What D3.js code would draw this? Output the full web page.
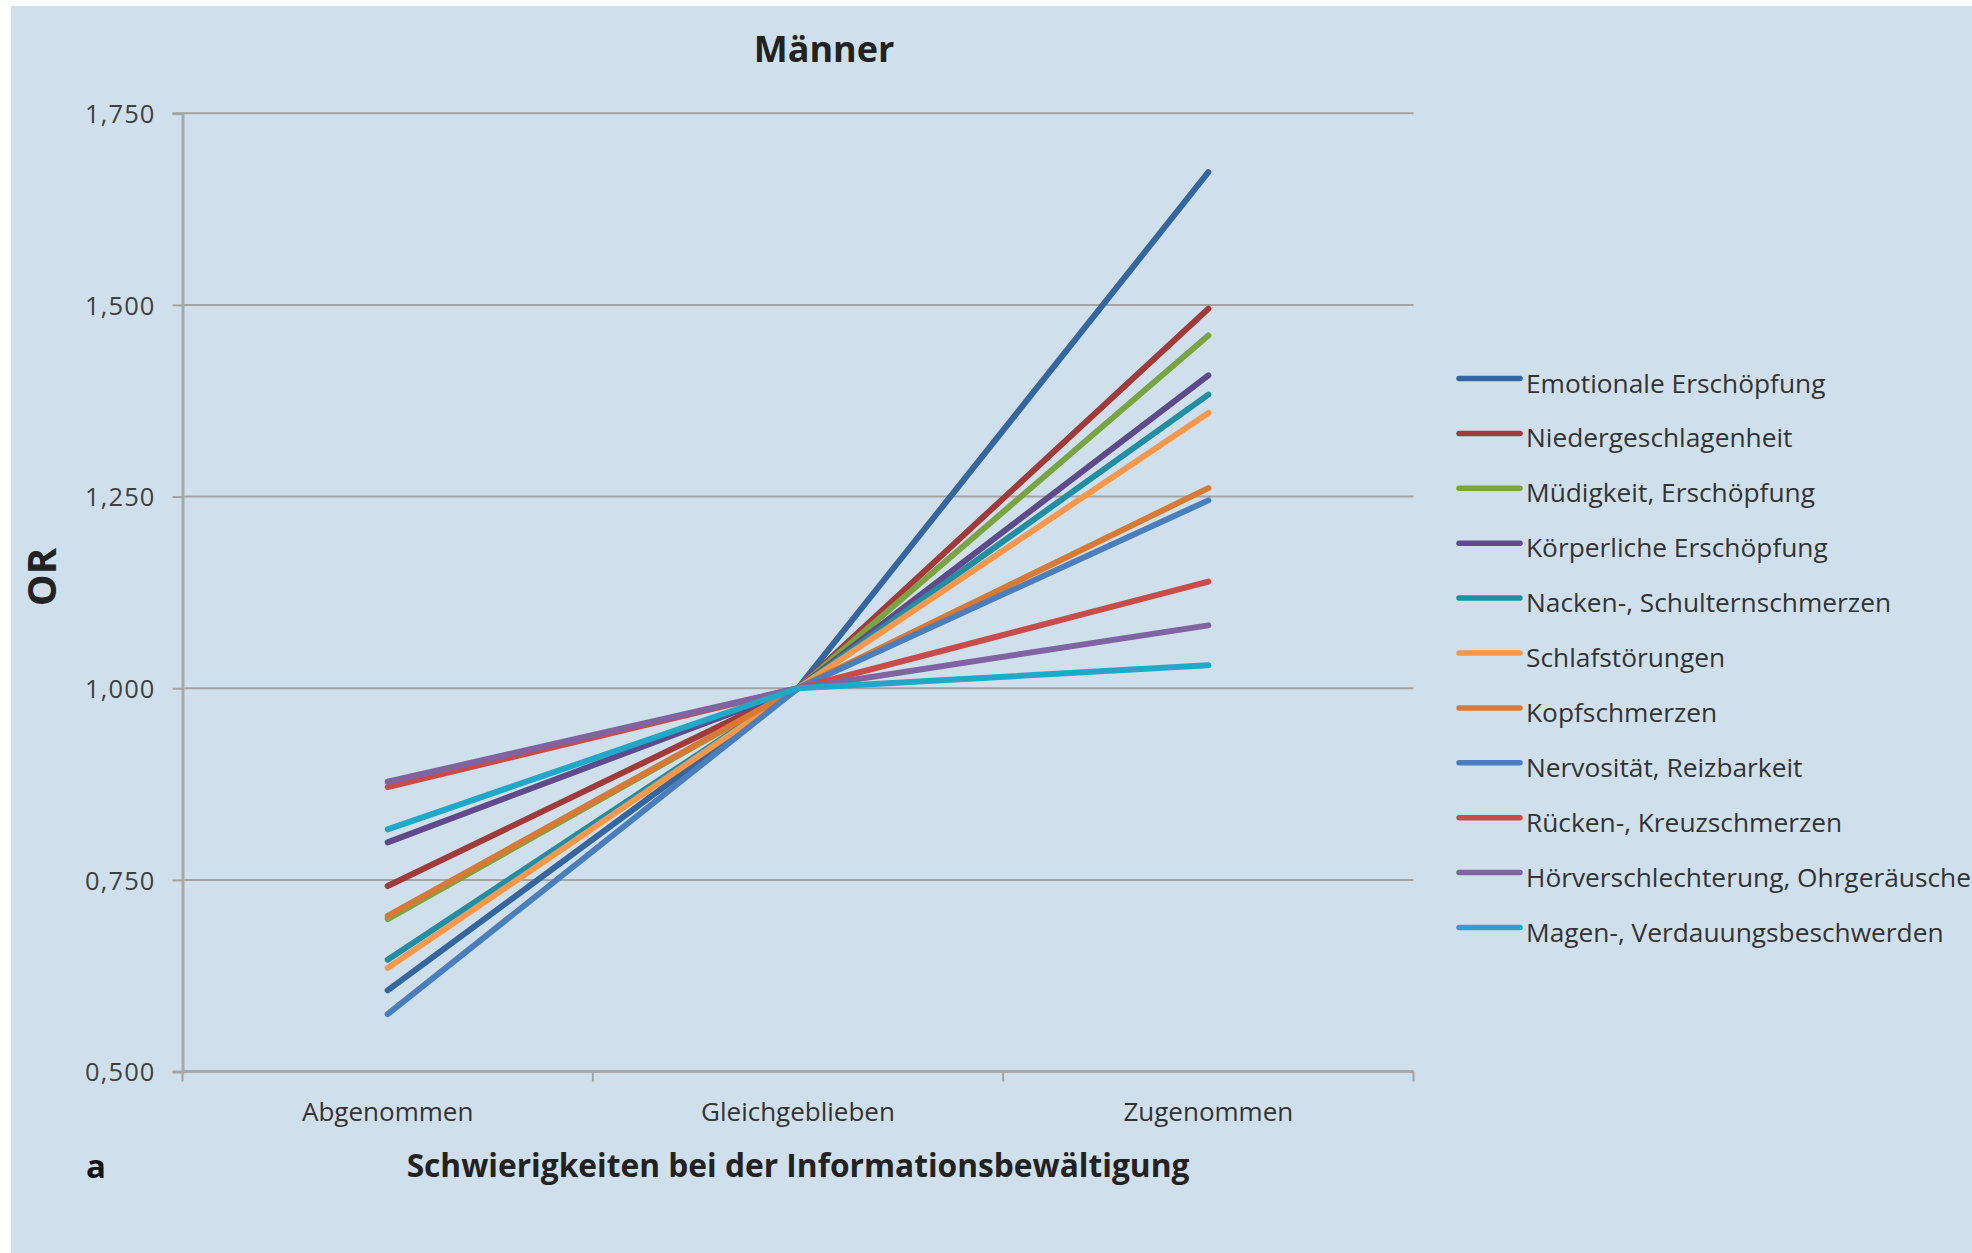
<!DOCTYPE html>
<html>
<head>
<meta charset="utf-8">
<script src="https://cdn.jsdelivr.net/npm/d3@7"></script>
<style>
  html, body { margin: 0; padding: 0; background: #ffffff; }
  svg { display: block; }
  text { font-family: "Open Sans", "Noto Sans", sans-serif; }
</style>
</head>
<body>
<svg id="chart" width="1972" height="1253"></svg>
<script>
// Categories on the x axis
const categories = ["Abgenommen", "Gleichgeblieben", "Zugenommen"];

// Series names (legend order)
const seriesNames = [
  "Emotionale Erschöpfung",
  "Niedergeschlagenheit",
  "Müdigkeit, Erschöpfung",
  "Körperliche Erschöpfung",
  "Nacken-, Schulternschmerzen",
  "Schlafstörungen",
  "Kopfschmerzen",
  "Nervosität, Reizbarkeit",
  "Rücken-, Kreuzschmerzen",
  "Hörverschlechterung, Ohrgeräusche",
  "Magen-, Verdauungsbeschwerden"
];

// Odds ratios per series (Abgenommen, Gleichgeblieben, Zugenommen)
const emotionaleErschoepfung = [0.606, 1.000, 1.673];
const niedergeschlagenheit   = [0.742, 1.000, 1.495];
const muedigkeit             = [0.699, 1.000, 1.460];
const koerperlicheErschoepf  = [0.799, 1.000, 1.408];
const nackenSchulter         = [0.646, 1.000, 1.383];
const schlafstoerungen       = [0.635, 1.000, 1.359];
const kopfschmerzen          = [0.703, 1.000, 1.261];
const nervositaet            = [0.575, 1.000, 1.245];
const rueckenKreuz           = [0.871, 1.000, 1.139];
const hoerverschlechterung   = [0.878, 1.000, 1.082];
const magenVerdauung         = [0.816, 1.000, 1.030];

const seriesValues = [
  emotionaleErschoepfung, niedergeschlagenheit, muedigkeit, koerperlicheErschoepf,
  nackenSchulter, schlafstoerungen, kopfschmerzen, nervositaet,
  rueckenKreuz, hoerverschlechterung, magenVerdauung
];

// Y axis tick values
const yTicks = [0.5, 0.75, 1.0, 1.25, 1.5, 1.75];

const colors = [
  "#3566a0", "#a23a3a", "#7aa444", "#5f4a8b", "#218ea1", "#f7974b",
  "#d87a35", "#4a7ebd", "#c94c4b", "#8064a2", "#1fa8c8"
];

const svg = d3.select("#chart");

// Panel background
svg.append("rect")
  .attr("x", 11).attr("y", 6)
  .attr("width", 1972 - 11).attr("height", 1253 - 6)
  .attr("fill", "#cfe0ec");

const plot = { left: 182.5, right: 1413.5, top: 113.2, bottom: 1071.6 };

const x = d3.scaleBand()
  .domain(categories)
  .range([plot.left, plot.right])
  .paddingInner(0).paddingOuter(0);

const y = d3.scaleLinear()
  .domain([0.5, 1.75])
  .range([plot.bottom, plot.top]);

const fmt = v => d3.format(".3f")(v).replace(".", ",");

// Horizontal gridlines
svg.append("g")
  .selectAll("line")
  .data(yTicks.filter(t => t > 0.5))
  .join("line")
  .attr("x1", plot.left).attr("x2", plot.right)
  .attr("y1", d => y(d)).attr("y2", d => y(d))
  .attr("stroke", "#a3a3a3")
  .attr("stroke-width", 2);

// Y axis
const yAxis = svg.append("g")
  .attr("transform", `translate(${plot.left},0)`)
  .call(d3.axisLeft(y).tickValues(yTicks).tickFormat(fmt).tickSize(10).tickPadding(17));
yAxis.select(".domain").attr("stroke", "#a8a8a8").attr("stroke-width", 3);
yAxis.selectAll(".tick line").attr("stroke", "#a3a3a3").attr("stroke-width", 2);
yAxis.selectAll(".tick text")
  .attr("fill", "#404040")
  .style("font-size", "25.5px")
  .style("letter-spacing", "1.1px")
  .style("font-family", "'Open Sans', sans-serif")
  .attr("dy", "0.36em");

// X axis
const xAxis = svg.append("g")
  .attr("transform", `translate(0,${plot.bottom})`)
  .call(d3.axisBottom(x).tickSize(0).tickPadding(0).tickFormat(""));
xAxis.select(".domain").attr("stroke", "#a8a8a8").attr("stroke-width", 3)
  .attr("d", `M${plot.left},0H${plot.right}`);
xAxis.selectAll(".tick").remove();

// Tick marks at band boundaries
const boundaries = categories.map(c => x(c)).concat([x(categories[categories.length - 1]) + x.bandwidth()]);
xAxis.selectAll("line.bound")
  .data(boundaries)
  .join("line")
  .attr("class", "bound")
  .attr("x1", d => d).attr("x2", d => d)
  .attr("y1", 0).attr("y2", 10)
  .attr("stroke", "#a3a3a3").attr("stroke-width", 2);

// Category labels
svg.append("g")
  .selectAll("text")
  .data(categories)
  .join("text")
  .attr("x", d => x(d) + x.bandwidth() / 2)
  .attr("y", 1121)
  .attr("text-anchor", "middle")
  .attr("fill", "#333333")
  .style("font-size", "26px")
  .text(d => d);

// Lines
const line = d3.line()
  .x((d, i) => x(categories[i]) + x.bandwidth() / 2)
  .y(d => y(d));

svg.append("g")
  .selectAll("path")
  .data(seriesValues)
  .join("path")
  .attr("d", d => line(d))
  .attr("fill", "none")
  .attr("stroke", (d, i) => colors[i])
  .attr("stroke-width", 6)
  .attr("stroke-linecap", "round")
  .attr("stroke-linejoin", "round");

// Legend
const legend = svg.append("g");
const rowY = i => 378.5 + i * 54.9;
legend.selectAll("line")
  .data(seriesNames)
  .join("line")
  .attr("x1", 1459).attr("x2", 1520)
  .attr("y1", (d, i) => rowY(i)).attr("y2", (d, i) => rowY(i))
  .attr("stroke", (d, i) => colors[i])
  .attr("stroke-width", 5.5)
  .attr("stroke-linecap", "round");
legend.selectAll("text")
  .data(seriesNames)
  .join("text")
  .attr("x", 1526)
  .attr("y", (d, i) => rowY(i) + 14)
  .attr("fill", "#333333")
  .style("font-size", "26.3px")
  .text(d => d);

// Title
svg.append("text")
  .attr("x", 824).attr("y", 62)
  .attr("text-anchor", "middle")
  .attr("fill", "#222222")
  .style("font-size", "36px")
  .style("font-weight", "bold")
  .text("Männer");

// Y axis title
svg.append("text")
  .attr("transform", "translate(56,577) rotate(-90)")
  .attr("text-anchor", "middle")
  .attr("fill", "#222222")
  .style("font-size", "40px")
  .style("font-weight", "bold")
  .text("OR");

// X axis title
svg.append("text")
  .attr("x", 798).attr("y", 1177)
  .attr("text-anchor", "middle")
  .attr("fill", "#222222")
  .style("font-size", "31.7px")
  .style("font-weight", "bold")
  .text("Schwierigkeiten bei der Informationsbewältigung");

// Panel letter
svg.append("text")
  .attr("x", 86).attr("y", 1178)
  .attr("fill", "#111111")
  .style("font-size", "33px")
  .style("font-weight", "bold")
  .text("a");
</script>
</body>
</html>
